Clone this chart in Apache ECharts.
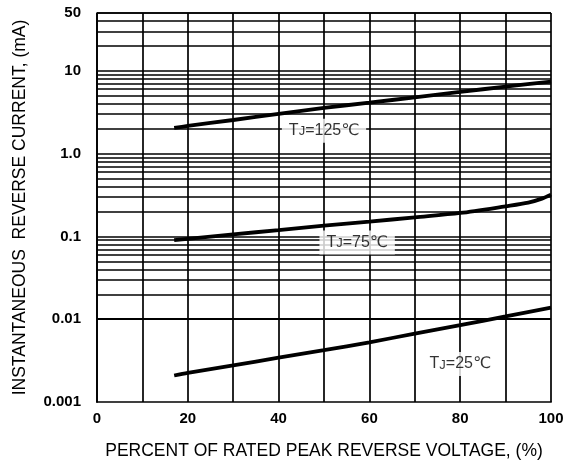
<!DOCTYPE html>
<html>
<head>
<meta charset="utf-8">
<script src="https://cdn.jsdelivr.net/npm/echarts@6/dist/echarts.min.js"></script>
<style>
html,body{margin:0;padding:0;background:#fff;}
#chart{width:574px;height:465px;}
</style>
</head>
<body>
<div id="chart"></div>
<script>
// ---- data ----
var tj125X = [17, 20, 30, 40, 50, 60, 70, 80, 90, 100];
var tj125Y = [2.05, 2.16, 2.55, 3.02, 3.57, 4.13, 4.79, 5.56, 6.46, 7.4];

var tj75X = [17, 20, 30, 40, 50, 60, 70, 80, 90, 95, 98, 100];
var tj75Y = [0.09, 0.0935, 0.106, 0.119, 0.135, 0.151, 0.170, 0.192, 0.231, 0.256, 0.286, 0.32];

var tj25X = [17, 20, 30, 40, 50, 60, 70, 80, 90, 100];
var tj25Y = [0.00209, 0.00225, 0.00277, 0.00343, 0.00423, 0.00526, 0.0067, 0.0085, 0.0108, 0.0138];

var seriesNames = ['125', '75', '25'];
var labelX = [50, 57.3, 80];
var labelY = [1.89, 0.0847, 0.00288];

var xTicks = [0, 20, 40, 60, 80, 100];
var yTickValues = [0.001, 0.01, 0.1, 1, 10, 50];
var yTickLabels = ['0.001', '0.01', '0.1', '1.0', '10', '50'];

var decades = [0.001, 0.01, 0.1, 1, 10];
var yMax = 50;

// ---- build ----
function pairs(xs, ys) { return xs.map(function (x, i) { return [x, ys[i]]; }); }

var gridValues = [];
decades.forEach(function (d) {
  for (var m = 1; m <= 9; m++) {
    var v = parseFloat((m * d).toPrecision(3));
    if (v <= yMax) gridValues.push(v);
  }
});
gridValues.push(yMax);

var gridColor = '#000';
var gridWidth = 1.7;
var font = '"Liberation Sans", Arial, sans-serif';
var sym = '"DejaVu Sans", sans-serif';

var curveStyle = { color: '#000', width: 3.8 };

var labelData = seriesNames.map(function (n, i) {
  return { value: [labelX[i], labelY[i]], name: n };
});

var option = {
  animation: false,
  backgroundColor: '#fff',
  grid: { left: 97, right: 23, top: 13, bottom: 62 },
  xAxis: {
    type: 'value', min: 0, max: 100, interval: 10,
    name: 'PERCENT OF RATED PEAK REVERSE VOLTAGE, (%)',
    nameLocation: 'middle', nameGap: 40,
    nameTextStyle: { fontFamily: font, fontSize: 17.5, color: '#000' },
    axisLine: { show: true, lineStyle: { color: gridColor, width: gridWidth } },
    axisTick: { show: false },
    axisLabel: {
      fontFamily: font, fontSize: 15, fontWeight: 'bold', color: '#000', margin: 9,
      customValues: xTicks
    },
    splitLine: { show: true, lineStyle: { color: gridColor, width: gridWidth } }
  },
  yAxis: {
    type: 'log', logBase: 10, min: 0.001, max: yMax,
    name: 'INSTANTANEOUS  REVERSE CURRENT, (mA)',
    nameLocation: 'middle', nameGap: 68,
    nameTextStyle: { fontFamily: font, fontSize: 17.5, color: '#000' },
    axisLine: { show: true, lineStyle: { color: gridColor, width: gridWidth } },
    axisTick: { show: false },
    splitLine: { show: false },
    axisLabel: {
      fontFamily: font, fontSize: 15, fontWeight: 'bold', color: '#000', margin: 16,
      customValues: yTickValues,
      formatter: function (v) {
        for (var i = 0; i < yTickValues.length; i++) {
          if (Math.abs(v - yTickValues[i]) / yTickValues[i] < 1e-6) return yTickLabels[i];
        }
        return '';
      }
    }
  },
  series: [
    {
      type: 'line', data: [], z: 1, silent: true,
      markLine: {
        silent: true, symbol: ['none', 'none'], z: 1,
        label: { show: false },
        lineStyle: { color: gridColor, width: gridWidth, type: 'solid' },
        emphasis: { disabled: true },
        data: gridValues.map(function (v) { return { yAxis: v }; })
      }
    },
    { type: 'line', data: pairs(tj125X, tj125Y), smooth: 0.3, symbol: 'none', lineStyle: curveStyle, z: 3 },
    { type: 'line', data: pairs(tj75X, tj75Y), smooth: 0.3, symbol: 'none', lineStyle: curveStyle, z: 3 },
    { type: 'line', data: pairs(tj25X, tj25Y), smooth: 0.3, symbol: 'none', lineStyle: curveStyle, z: 3 },
    {
      type: 'scatter', data: labelData, symbolSize: 0, z: 10, silent: true,
      label: {
        show: true, position: 'inside',
        formatter: function (p) { return '{t|T}{j|J}{t|=' + p.name + '}{c|℃}'; },
        backgroundColor: '#fff', padding: [2, 7, 2, 7],
        rich: {
          t: { fontFamily: font, fontSize: 16, color: '#000', lineHeight: 20, verticalAlign: 'middle' },
          j: { fontFamily: font, fontSize: 13, color: '#000', lineHeight: 20, verticalAlign: 'middle', padding: [2, 0, 0, 0] },
          c: { fontFamily: sym, fontSize: 16, color: '#000', lineHeight: 20, verticalAlign: 'middle' }
        }
      }
    }
  ]
};

var chart = echarts.init(document.getElementById('chart'), null, { renderer: 'canvas' });
chart.setOption(option);
</script>
</body>
</html>
